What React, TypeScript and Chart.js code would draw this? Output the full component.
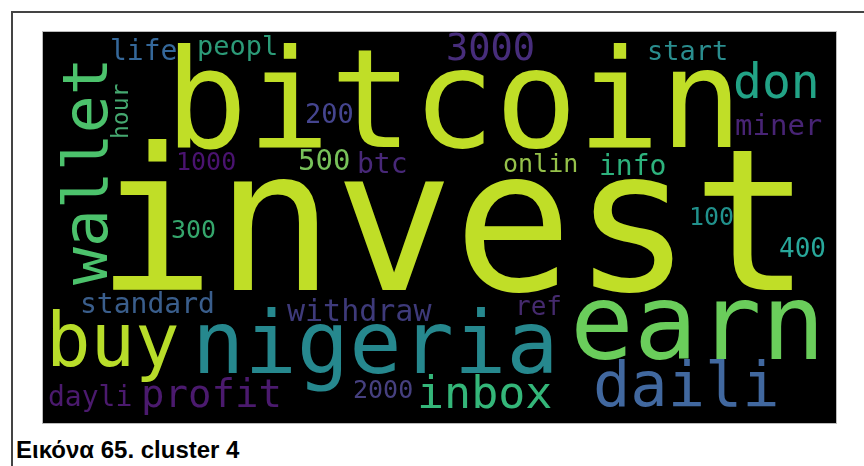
import React, { useEffect, useRef } from "react";
import { Chart, registerables } from "chart.js";

Chart.register(...registerables);

// Word cloud terms (cluster 4)
const words = [
  "invest", "bitcoin", "nigeria", "earn", "buy", "wallet", "daili", "inbox", "don",
  "3000", "start", "life", "peopl", "hour", "200", "miner", "1000", "500", "btc",
  "onlin", "info", "300", "100", "400", "standard", "withdraw", "ref", "dayli",
  "profit", "2000",
];
// Relative weight of each term (rendered font size)
const weights = [
  198, 137, 87, 106, 74, 63, 62, 45, 48,
  37, 27, 28, 27, 23, 27, 29, 25, 29, 28,
  25, 28, 25, 25, 26, 28, 30, 26, 28,
  39, 25,
];
// Placement of each term inside the cloud (cloud units)
const xPos = [
  53, 122, 149, 527, 3, 64, 550, 374, 690,
  403, 604, 67, 154, 85, 262, 692, 133, 255, 314,
  460, 556, 128, 646, 736, 37, 244, 472, 5,
  98, 310,
];
const yPos = [
  258, 115, 341, 327, 334, 253, 374, 376, 66,
  28, 28, 28, 23, 107, 91, 103, 138, 138, 141,
  140, 143, 206, 193, 225, 281, 289, 283, 374,
  375, 366,
];
// 1 = vertical (reads bottom to top)
const vertical = [
  0, 0, 0, 0, 0, 1, 0, 0, 0,
  0, 0, 0, 0, 1, 0, 0, 0, 0, 0,
  0, 0, 0, 0, 0, 0, 0, 0, 0,
  0, 0,
];
const colors = [
  "#c0de27", "#c0de27", "#26888e", "#6acd5b", "#b8dd2a", "#4cc26c", "#41689f", "#34b679", "#22a386",
  "#472d7b", "#2a8d8e", "#35689a", "#2c9b78", "#45a870", "#45458f", "#482475", "#4a1370", "#78c25a", "#482878",
  "#95c14a", "#2db27d", "#35a66c", "#21918c", "#28a79a", "#3a5e8c", "#3e3a7a", "#452a6e", "#4b1a6e",
  "#4b1a6e", "#46407f",
];

const CLOUD_W = 793;
const CLOUD_H = 391;

const cloudPlugin = {
  id: "cloudText",
  beforeDraw(chart: any) {
    const { ctx, chartArea } = chart;
    ctx.save();
    ctx.fillStyle = "#000";
    ctx.fillRect(chartArea.left, chartArea.top, chartArea.right - chartArea.left, chartArea.bottom - chartArea.top);
    ctx.restore();
  },
  afterDatasetsDraw(chart: any) {
    const { ctx } = chart;
    const meta = chart.getDatasetMeta(0);
    meta.data.forEach((el: any, i: number) => {
      ctx.save();
      ctx.translate(el.x, el.y);
      if (vertical[i]) ctx.rotate(-Math.PI / 2);
      ctx.font = `${weights[i]}px "DejaVu Sans Mono", monospace`;
      ctx.textAlign = "left";
      ctx.textBaseline = "alphabetic";
      ctx.fillStyle = colors[i];
      ctx.fillText(words[i], 0, 0);
      ctx.restore();
    });
  },
};

export default function App() {
  const ref = useRef<HTMLCanvasElement>(null);
  useEffect(() => {
    if (!ref.current) return;
    const chart = new Chart(ref.current, {
      type: "scatter",
      data: {
        datasets: [
          {
            data: words.map((_, i) => ({ x: xPos[i], y: yPos[i] })),
            pointRadius: 0,
            pointHoverRadius: 0,
          },
        ],
      },
      options: {
        animation: false,
        responsive: true,
        maintainAspectRatio: false,
        layout: { padding: 0 },
        scales: {
          x: { type: "linear", min: 0, max: CLOUD_W, display: false },
          y: { type: "linear", min: 0, max: CLOUD_H, reverse: true, display: false },
        },
        plugins: { legend: { display: false }, tooltip: { enabled: false } },
      },
      plugins: [cloudPlugin],
    });
    return () => chart.destroy();
  }, []);

  return (
    <div style={{ position: "absolute", left: 0, top: 0, width: 864, height: 466, overflow: "hidden", background: "#fff" }}>
      <div
        style={{
          position: "absolute",
          left: 11,
          top: 11,
          width: 900,
          height: 500,
          borderLeft: "2px solid #444",
          borderTop: "2px solid #444",
        }}
      />
      <div
        style={{
          position: "absolute",
          left: 43,
          top: 32,
          width: CLOUD_W,
          height: CLOUD_H,
          outline: "1px solid #bbb",
        }}
      >
        <canvas ref={ref} />
      </div>
      <div
        style={{
          position: "absolute",
          left: 16,
          top: 438,
          font: "bold 24px 'Liberation Sans', Arial, sans-serif",
          lineHeight: 1,
          color: "#000",
          whiteSpace: "nowrap",
        }}
      >
        Εικόνα 65. cluster 4
      </div>
    </div>
  );
}
